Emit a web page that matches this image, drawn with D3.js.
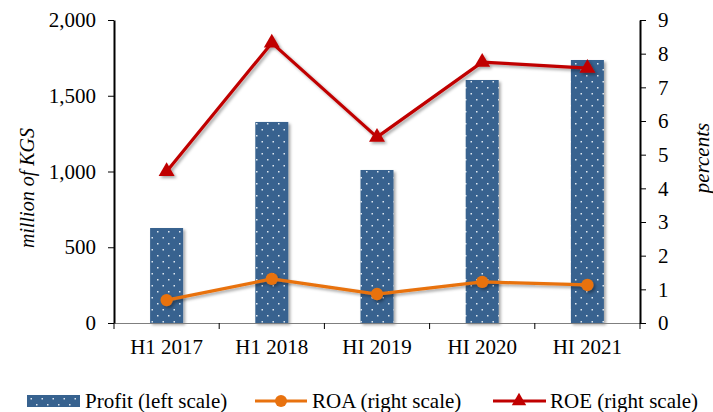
<!DOCTYPE html>
<meta charset="utf-8">
<title>Profit, ROA and ROE</title>
<style>
body { margin: 0; background: white; }
svg { display: block; }
svg text { font-family: 'Liberation Serif', 'Times New Roman', serif; fill: #000; }
</style>
<svg width="713" height="412"></svg>
<script src="https://d3js.org/d3.v7.min.js"></script>
<script>
var categories = ["H1 2017", "H1 2018", "HI 2019", "HI 2020", "HI 2021"];
var profit = [627, 1327, 1010, 1604, 1736];
var roa = [0.68, 1.31, 0.86, 1.22, 1.13];
var roe = [4.5, 8.32, 5.52, 7.75, 7.57];
var leftTicks = [0, 500, 1000, 1500, 2000];
var rightTicks = [0, 1, 2, 3, 4, 5, 6, 7, 8, 9];

var svg = d3.select("svg"),
    mLeft = 114, mRight = 640, mTop = 20, mBottom = 323;

var blue = "#37628f", orange = "#e8720f", red = "#c00000";

var defs = svg.append("defs");
var pat = defs.append("pattern")
    .attr("id", "dots").attr("patternUnits", "userSpaceOnUse")
    .attr("width", 11).attr("height", 12);
pat.append("rect").attr("width", 11).attr("height", 12).attr("fill", blue);
pat.append("rect").attr("x", 3).attr("y", 3).attr("width", 1.5).attr("height", 1.5).attr("fill", "#dfe7f0");
pat.append("rect").attr("x", 8.5).attr("y", 9).attr("width", 1.5).attr("height", 1.5).attr("fill", "#dfe7f0");

var shadow = defs.append("filter").attr("id", "shadow")
    .attr("x", "-30%").attr("y", "-30%").attr("width", "160%").attr("height", "160%");
shadow.append("feDropShadow").attr("dx", 2).attr("dy", 2).attr("stdDeviation", 1.5)
    .attr("flood-color", "#000").attr("flood-opacity", 0.35);

var x = d3.scaleBand().domain(categories).range([mLeft, mRight]);
var yL = d3.scaleLinear().domain([0, 2000]).range([mBottom, mTop]);
var yR = d3.scaleLinear().domain([0, 9]).range([mBottom, mTop]);

// bars
svg.append("g").selectAll("rect")
  .data(profit)
  .join("rect")
    .attr("x", function(d, i) { return x(categories[i]) + x.bandwidth() / 2 - 16.5; })
    .attr("y", function(d) { return yL(d); })
    .attr("width", 33)
    .attr("height", function(d) { return mBottom - yL(d); })
    .attr("fill", "url(#dots)")
    .attr("filter", "url(#shadow)");

// axes
var gx = svg.append("g").attr("transform", "translate(0," + mBottom + ")")
    .call(d3.axisBottom(x).tickSize(0).tickPadding(16));
gx.select(".domain").attr("stroke", "#7f7f7f").attr("stroke-width", 1.2);
gx.selectAll(".tick line").remove();
gx.selectAll(".sep")
  .data(d3.range(categories.length + 1))
  .join("line")
    .attr("x1", function(i) { return mLeft + i * x.step(); })
    .attr("x2", function(i) { return mLeft + i * x.step(); })
    .attr("y1", 0).attr("y2", 6)
    .attr("stroke", "#000");

var gl = svg.append("g").attr("transform", "translate(" + mLeft + ",0)")
    .call(d3.axisLeft(yL).tickValues(leftTicks).tickFormat(d3.format(",")).tickSize(6).tickSizeOuter(0).tickPadding(12));
gl.select(".domain").attr("stroke-width", 2);

var gr = svg.append("g").attr("transform", "translate(" + mRight + ",0)")
    .call(d3.axisRight(yR).tickValues(rightTicks).tickSize(6).tickSizeOuter(0).tickPadding(12));
gr.select(".domain").attr("stroke-width", 2);

[gx, gl, gr].forEach(function(g) {
  g.attr("font-family", null).attr("font-size", 21);
});

// axis titles
svg.append("text")
    .attr("transform", "translate(34,188) rotate(-90)")
    .attr("text-anchor", "middle").attr("font-size", 20).attr("font-style", "italic")
    .text("million of KGS");
svg.append("text")
    .attr("transform", "translate(709,158) rotate(-90)")
    .attr("text-anchor", "middle").attr("font-size", 21).attr("font-style", "italic")
    .text("percents");

// lines
var cx = function(d, i) { return x(categories[i]) + x.bandwidth() / 2; };
function drawLine(values, color, marker) {
  var g = svg.append("g").attr("filter", "url(#shadow)");
  g.append("path")
    .datum(values)
    .attr("fill", "none").attr("stroke", color).attr("stroke-width", 3.2)
    .attr("stroke-linejoin", "round")
    .attr("d", d3.line().x(cx).y(function(d) { return yR(d); }));
  g.selectAll("path.m")
    .data(values)
    .join("path").attr("class", "m")
    .attr("transform", function(d, i) { return "translate(" + cx(d, i) + "," + yR(d) + ")"; })
    .attr("d", d3.symbol().type(marker).size(marker === d3.symbolCircle ? 120 : 110))
    .attr("fill", color);
}
drawLine(roa, orange, d3.symbolCircle);
drawLine(roe, red, d3.symbolTriangle);

// legend
var lg = svg.append("g").attr("transform", "translate(0,401)");
lg.append("rect").attr("x", 27).attr("y", -6).attr("width", 53).attr("height", 12).attr("fill", "url(#dots)");
lg.append("text").attr("x", 85).attr("y", 7).attr("font-size", 21).text("Profit (left scale)");
lg.append("line").attr("x1", 255).attr("x2", 307).attr("stroke", orange).attr("stroke-width", 3.2);
lg.append("circle").attr("cx", 281).attr("r", 6).attr("fill", orange);
lg.append("text").attr("x", 312).attr("y", 7).attr("font-size", 21).text("ROA (right scale)");
lg.append("line").attr("x1", 493).attr("x2", 546).attr("stroke", red).attr("stroke-width", 3.2);
lg.append("path").attr("transform", "translate(519,0)").attr("d", d3.symbol().type(d3.symbolTriangle).size(90)).attr("fill", red);
lg.append("text").attr("x", 550).attr("y", 7).attr("font-size", 21).text("ROE (right scale)");
</script>
